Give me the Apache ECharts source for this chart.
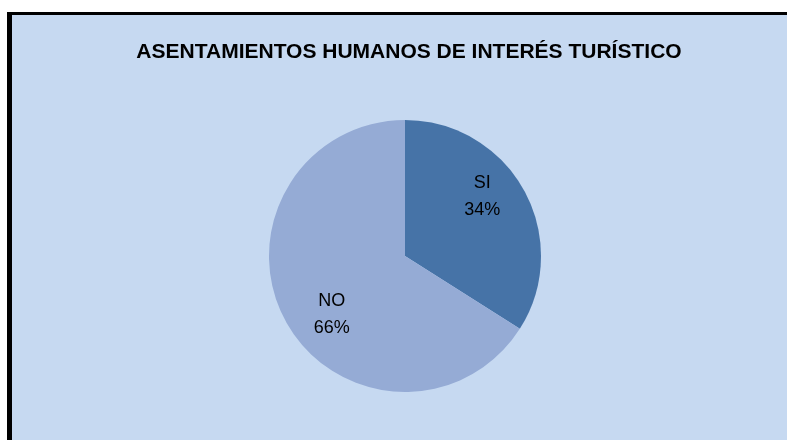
<!DOCTYPE html>
<html>
<head>
<meta charset="utf-8">
<script src="https://cdn.jsdelivr.net/npm/echarts@6/dist/echarts.min.js"></script>
<style>
  html, body { margin: 0; padding: 0; background: #fff; }
  .frame {
    position: absolute; left: 7px; top: 12px; width: 800px; height: 450px;
    background: #c6d9f1; border-left: 5px solid #000; border-top: 3px solid #000;
  }
  #container { position: absolute; left: 0; top: 0; width: 787px; height: 440px; }
</style>
</head>
<body>
<div class="frame"></div>
<div id="container"></div>
<script>
const titleText = 'ASENTAMIENTOS HUMANOS DE INTERÉS TURÍSTICO'
const categories = ['SI', 'NO']
const values = [34, 66]
const colors = ['#4673a7', '#95abd5']

// etiquetas movidas un poco respecto a la posición 'inside'
const labelShift = [[15, -25], [-11, 24]]

const chart = echarts.init(document.getElementById('container'))

chart.setOption({
  backgroundColor: 'transparent',
  animation: false,
  title: {
    text: titleText,
    left: 404,
    textAlign: 'center',
    top: 37,
    textStyle: {
      fontFamily: 'Liberation Sans',
      fontWeight: 'bold',
      fontSize: 21,
      color: '#000'
    }
  },
  series: [{
    type: 'pie',
    center: [405, 256],
    radius: 136,
    startAngle: 90,
    clockwise: true,
    label: {
      position: 'inside',
      formatter: '{b}\n{d}%',
      fontFamily: 'Liberation Sans',
      fontSize: 18,
      lineHeight: 27,
      color: '#000'
    },
    labelLayout: (p) => ({ dx: labelShift[p.dataIndex][0], dy: labelShift[p.dataIndex][1] }),
    emphasis: { disabled: true },
    data: categories.map((c, i) => ({
      name: c,
      value: values[i],
      itemStyle: { color: colors[i] }
    }))
  }]
})
</script>
</body>
</html>
